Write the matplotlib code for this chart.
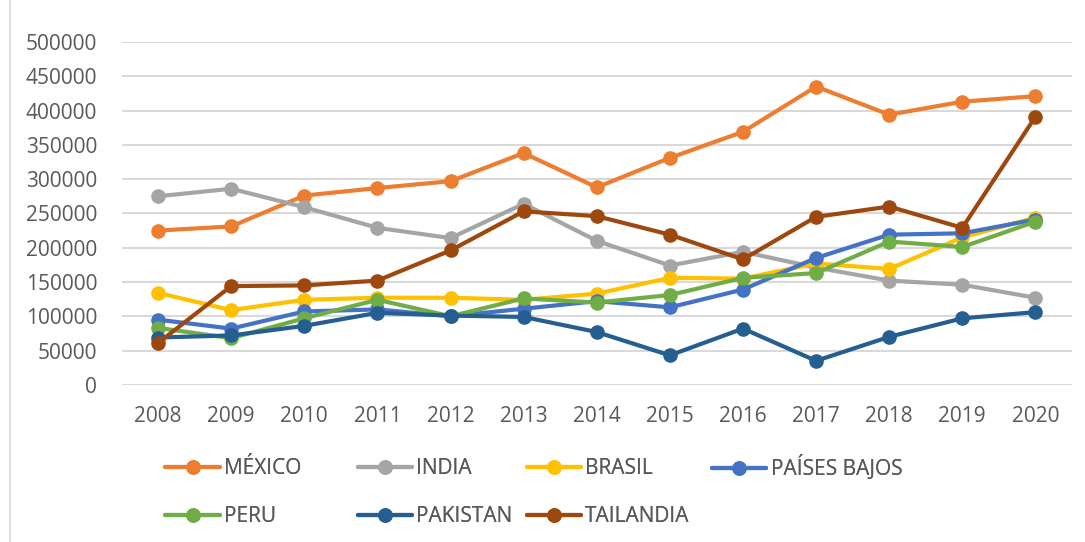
"""Line chart: yearly values per country (2008-2020)"""

import matplotlib
matplotlib.use('Agg')
import matplotlib.pyplot as plt
from matplotlib.lines import Line2D
import numpy as np

years = ['2008', '2009', '2010', '2011', '2012', '2013', '2014',
         '2015', '2016', '2017', '2018', '2019', '2020']

mexico = [225000, 231000, 276000, 287000, 297000, 338000, 288000,
          331000, 369000, 435000, 394000, 413000, 421000]
india = [275000, 286000, 259000, 229000, 214000, 264000, 210000,
         174000, 194000, 171000, 152000, 146000, 127000]
brasil = [134000, 109000, 124000, 127000, 127000, 124000, 133000,
          156000, 155000, 177000, 169000, 215000, 244000]
paises_bajos = [95000, 82000, 107000, 110000, 100000, 111000, 122000,
                113000, 139000, 185000, 219000, 221000, 241000]
peru = [83000, 68000, 97000, 124000, 100000, 126000, 120000,
        131000, 156000, 163000, 209000, 201000, 238000]
pakistan = [69000, 72000, 86000, 105000, 101000, 99000, 77000,
            43000, 82000, 35000, 70000, 97000, 106000]
tailandia = [61000, 144000, 145000, 152000, 196000, 253000, 246000,
             219000, 183000, 245000, 260000, 229000, 391000]

labels = ['MÉXICO', 'INDIA', 'BRASIL', 'PAÍSES BAJOS', 'PERU', 'PAKISTAN', 'TAILANDIA']
series = [mexico, india, brasil, paises_bajos, peru, pakistan, tailandia]
colors = ['#ED7D31', '#A5A5A5', '#FFC000', '#4472C4', '#70AD47', '#255E91', '#9E480E']

plt.rcParams['font.family'] = ['Open Sans', 'DejaVu Sans']
text_color = '#595959'
fs = 15

fig = plt.figure(figsize=(10.85, 5.42), dpi=100)
ax = fig.add_axes([0.112, 0.290, 0.876, 0.6325])

x = np.arange(len(years))
handles = []
for vals, label, color in zip(series, labels, colors):
    line, = ax.plot(x, vals, color=color, linewidth=3, marker='o', markersize=9.5,
                    label=label, solid_capstyle='round')
    handles.append(line)

ax.set_xlim(-0.5, len(years) - 0.5)
ax.set_ylim(0, 500000)
ax.set_yticks(np.arange(0, 500001, 50000))
ax.set_xticks(x)
ax.set_xticklabels(years)
ax.yaxis.grid(True, color='#D9D9D9', linewidth=1.5)
ax.set_axisbelow(True)
for spine in ax.spines.values():
    spine.set_visible(False)
ax.tick_params(axis='both', length=0, labelsize=fs, colors=text_color)
ax.tick_params(axis='y', pad=17.5)
ax.tick_params(axis='x', pad=15)

# legend laid out row by row, one legend per column
blank = Line2D([], [], alpha=0)
col_x = [0.1525, 0.3295, 0.4855, 0.6565]
col_y = [0.155, 0.155, 0.155, 0.1605]
columns = [[0, 4], [1, 5], [2, 6], [3, None]]
for cx, cy, idx in zip(col_x, col_y, columns):
    col_handles = [handles[i] if i is not None else blank for i in idx]
    col_labels = [labels[i] if i is not None else ' ' for i in idx]
    leg = fig.legend(col_handles, col_labels,
                     loc='upper left', bbox_to_anchor=(cx, cy),
                     bbox_transform=fig.transFigure, frameon=False,
                     fontsize=fs, labelcolor=text_color, handlelength=2.6,
                     handletextpad=0.2, labelspacing=1.3, borderaxespad=0,
                     borderpad=0)
    fig.add_artist(leg)

fig.add_artist(Line2D([0.0092, 0.0092], [0, 1], transform=fig.transFigure,
                      color='#D9D9D9', linewidth=1.2))

fig.savefig('out.png', dpi=100)
